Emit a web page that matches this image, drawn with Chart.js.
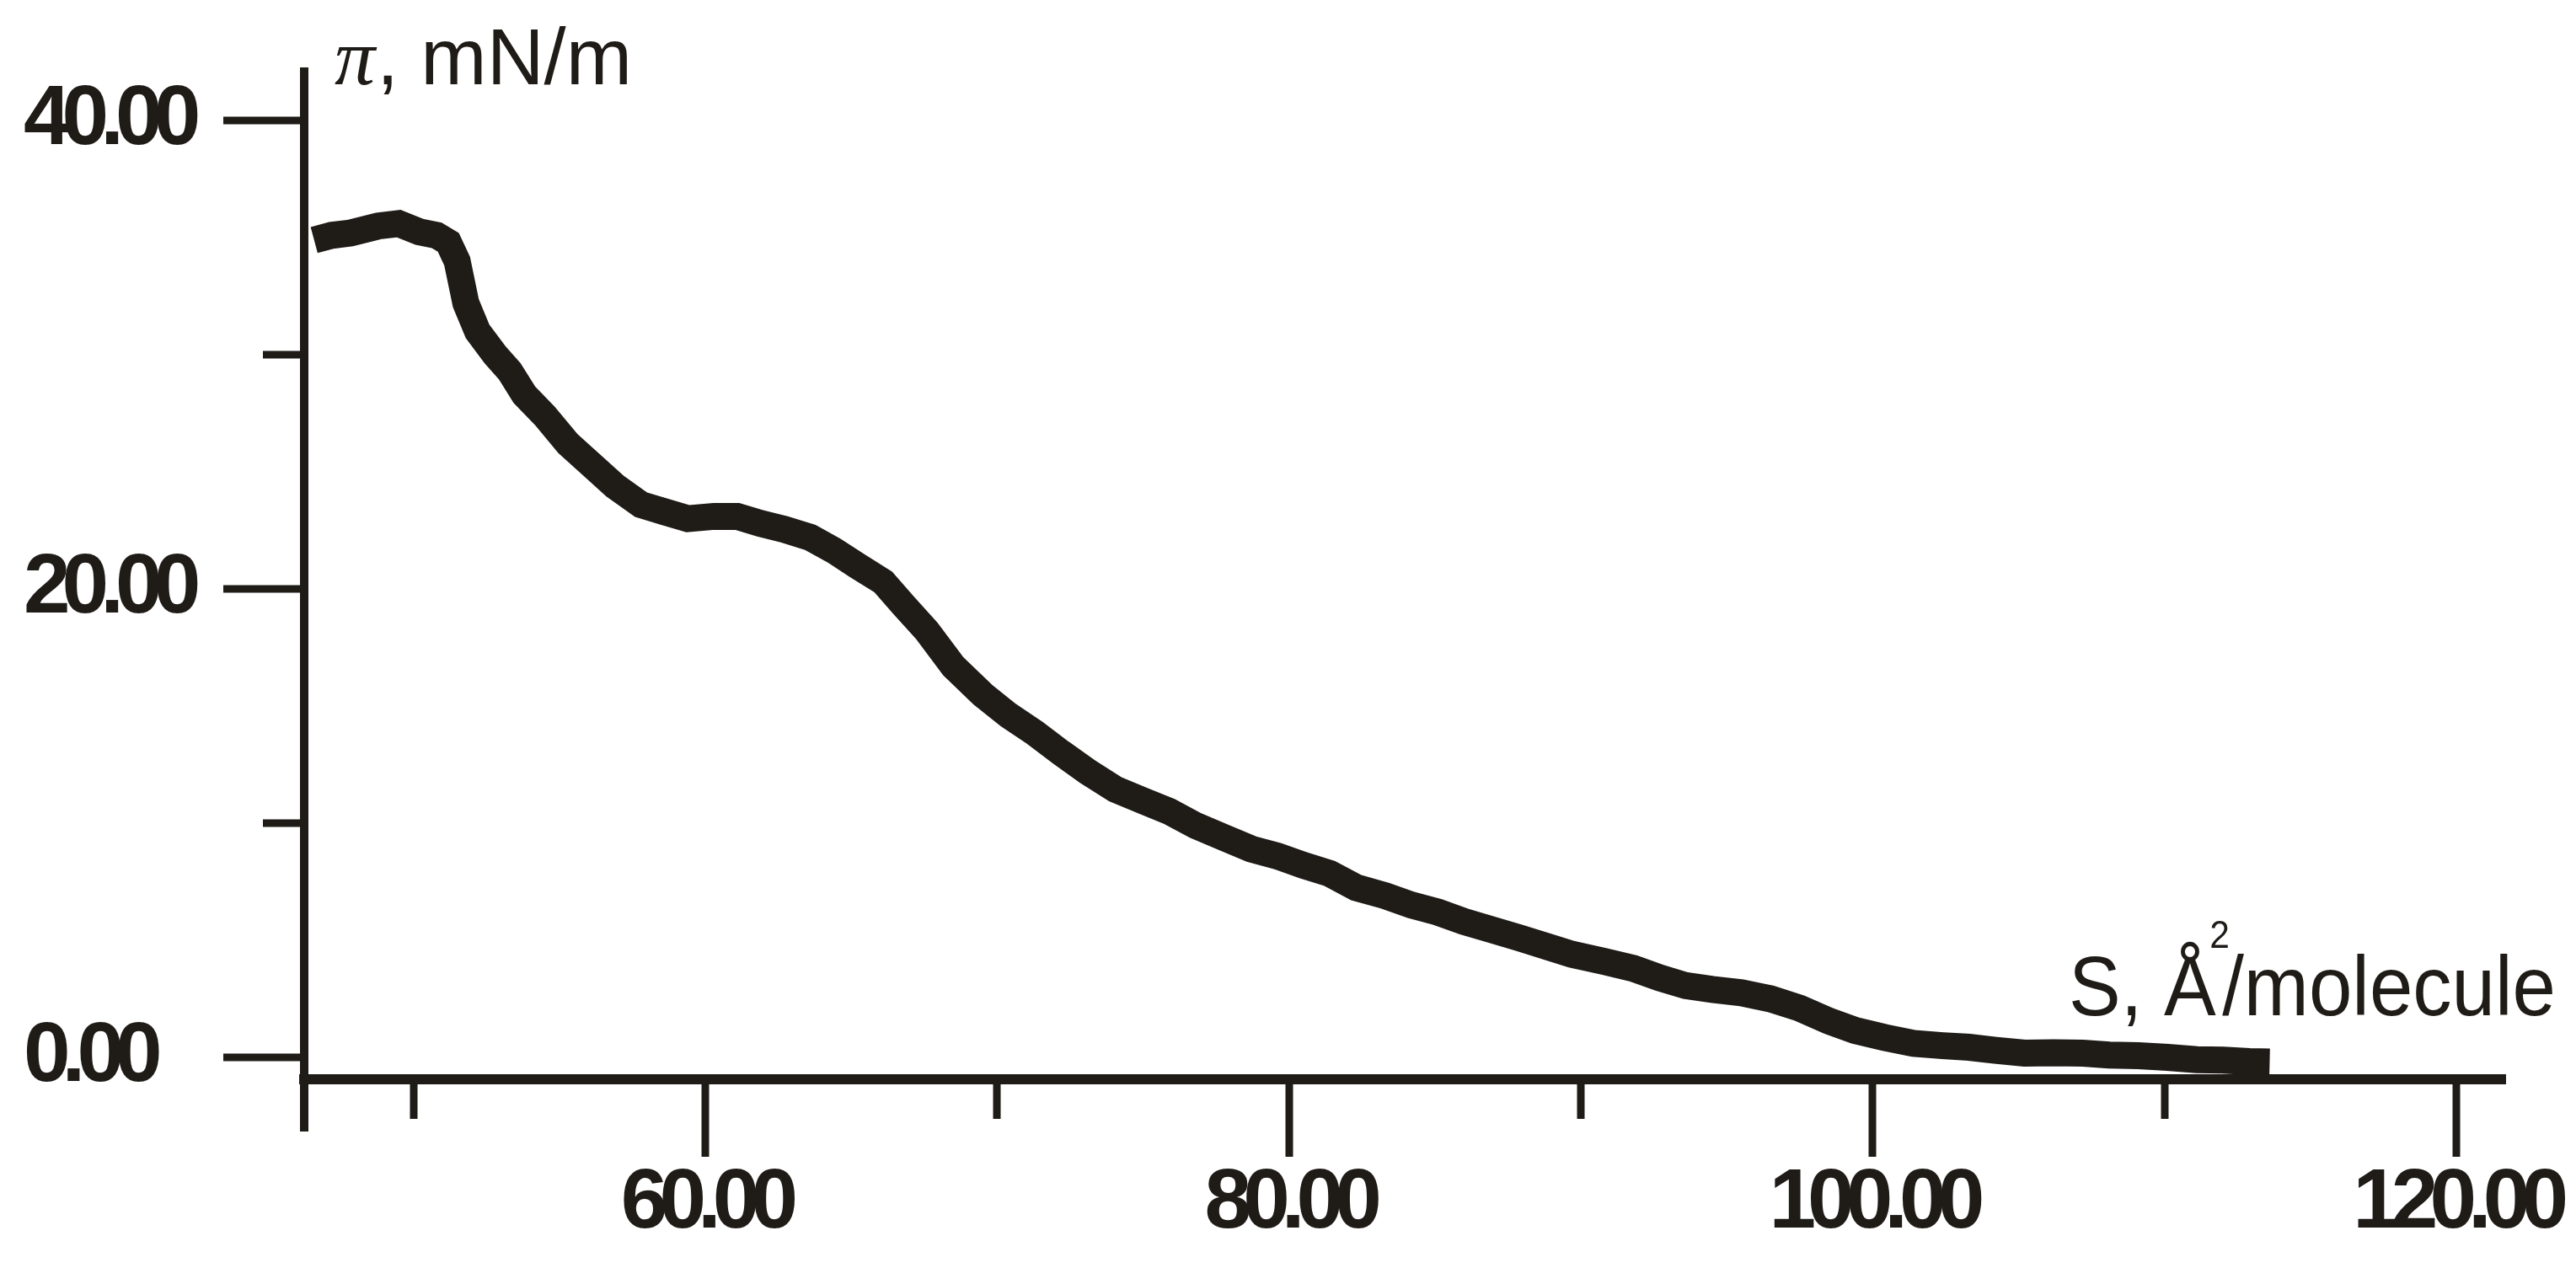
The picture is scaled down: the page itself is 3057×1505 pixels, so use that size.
<!DOCTYPE html>
<html>
<head>
<meta charset="utf-8">
<title>π – S isotherm</title>
<script src="https://cdn.jsdelivr.net/npm/chart.js@4.4.1/dist/chart.umd.min.js"></script>
<style>
  html, body { margin: 0; padding: 0; background: #fff; }
  #wrap { width: 3057px; height: 1505px; position: relative; }
</style>
</head>
<body>
<div id="wrap"><canvas id="isotherm"></canvas></div>
<script>
// S, Å²/molecule
const areaPerMolecule = [
  46.6, 47.2, 47.85, 48.8, 49.5, 50.2, 50.8, 51.2, 51.5, 51.8,
  52.2, 52.8, 53.3, 53.8, 54.5, 55.3, 56.1, 56.9, 57.8, 58.6,
  59.4, 60.3, 61.1, 61.9, 62.7, 63.6, 64.4, 65.2, 66.1, 66.8,
  67.6, 68.5, 69.5, 70.4, 71.3, 72.2, 73.1, 74.05, 74.97, 75.9,
  76.8, 77.75, 78.7, 79.6, 80.5, 81.4, 82.3, 83.3, 84.2, 85.1,
  86.0, 86.95, 87.9, 88.8, 89.7, 90.8, 91.8, 92.7, 93.6, 94.5,
  95.5, 96.5, 97.5, 98.5, 99.4, 100.4, 101.4, 102.4, 103.3, 104.2,
  105.2, 106.2, 107.2, 108.1, 109.1, 110.1, 111.1, 112.0, 112.9, 113.6
];
// π, mN/m
const surfacePressure = [
  34.9, 35.1, 35.2, 35.5, 35.6, 35.25, 35.1, 34.8, 34.0, 32.2,
  31.0, 30.0, 29.3, 28.3, 27.4, 26.2, 25.3, 24.4, 23.6, 23.3,
  23.0, 23.1, 23.1, 22.8, 22.55, 22.2, 21.65, 21.0, 20.3, 19.3,
  18.2, 16.7, 15.5, 14.6, 13.85, 13.0, 12.2, 11.45, 10.97, 10.5,
  9.9, 9.4, 8.9, 8.6, 8.2, 7.85, 7.25, 6.9, 6.5, 6.2,
  5.8, 5.45, 5.1, 4.75, 4.4, 4.1, 3.8, 3.4, 3.06, 2.9,
  2.76, 2.5, 2.1, 1.55, 1.15, 0.85, 0.6, 0.5, 0.43, 0.3,
  0.18, 0.2, 0.18, 0.1, 0.07, 0.0, -0.1, -0.12, -0.18, -0.2
];

const yTicks = [0, 10, 20, 30, 40];
const yLabelled = [0, 20, 40];
const xTicks = [50, 60, 70, 80, 90, 100, 110, 120];
const xLabelled = [60, 80, 100, 120];

const yTitle = ["π", ", mN/m"];
const xTitle = ["S, Å", "2", "/molecule"];

const ink = "#1f1c18";
const sans = "'Liberation Sans', Arial, sans-serif";

// the tick numbers are set in a narrow, tightly spaced bold face
function hasFont(name) {
  const c = document.createElement("canvas").getContext("2d");
  c.font = "bold 100px monospace";
  const a = c.measureText("0123.45").width;
  c.font = "bold 100px '" + name + "', monospace";
  return c.measureText("0123.45").width !== a;
}
const narrow = hasFont("Liberation Sans Narrow");
const tickFamily = narrow ? "'Liberation Sans Narrow', " + sans : sans;
const tickSize = narrow ? 104 : 100;
const tickSpacing = narrow ? "-6px" : "-10px";

// tick marks of two lengths, the y axis tail and both axis titles
const axisMarks = {
  id: "axisMarks",
  beforeDraw(chart) {
    chart.ctx.letterSpacing = tickSpacing;
  },
  afterDraw(chart) {
    const { ctx, chartArea: area, scales: { x, y } } = chart;
    ctx.save();
    ctx.letterSpacing = "0px";
    ctx.strokeStyle = ink;
    ctx.lineWidth = 9;
    ctx.beginPath();
    yTicks.forEach(v => {
      const py = Math.round(y.getPixelForValue(v));
      const len = yLabelled.includes(v) ? 96 : 49;
      ctx.moveTo(area.left - len, py);
      ctx.lineTo(area.left, py);
    });
    xTicks.forEach(v => {
      const px = Math.round(x.getPixelForValue(v));
      const len = xLabelled.includes(v) ? 92 : 47;
      ctx.moveTo(px, area.bottom);
      ctx.lineTo(px, area.bottom + len);
    });
    ctx.stroke();

    ctx.lineWidth = 10;
    ctx.beginPath();
    ctx.moveTo(area.left, area.bottom);
    ctx.lineTo(area.left, area.bottom + 62);
    ctx.stroke();

    // y title
    ctx.fillStyle = ink;
    ctx.textAlign = "left";
    ctx.textBaseline = "alphabetic";
    ctx.font = "italic 96px 'Liberation Serif', serif";
    ctx.fillText(yTitle[0], area.left + 36, area.top + 15);
    const piW = ctx.measureText(yTitle[0]).width;
    ctx.font = "94px " + sans;
    ctx.fillText(yTitle[1], area.left + 36 + piW + 2, area.top + 15);

    // x title, squeezed a little like the original
    ctx.font = "100px " + sans;
    const wA = ctx.measureText(xTitle[0]).width;
    const wB = ctx.measureText(xTitle[2]).width;
    const sx = 578 / (wA + wB + 8);
    ctx.translate(2455, area.bottom - 76);
    ctx.scale(sx, 1);
    ctx.fillText(xTitle[0], 0, 0);
    ctx.fillText(xTitle[2], wA + 8, 0);
    ctx.font = "46px " + sans;
    ctx.fillText(xTitle[1], wA - 8, -80);
    ctx.restore();
  }
};

const points = areaPerMolecule.map((s, i) => ({ x: s, y: surfacePressure[i] }));

new Chart(document.getElementById("isotherm"), {
  type: "scatter",
  data: {
    datasets: [{
      data: points,
      showLine: true,
      borderColor: ink,
      borderWidth: 32,
      pointRadius: 0,
      tension: 0,
      fill: false
    }]
  },
  options: {
    responsive: true,
    maintainAspectRatio: false,
    devicePixelRatio: 1,
    animation: false,
    layout: { padding: { left: 28, top: 85, right: 84, bottom: 0 } },
    plugins: { legend: { display: false }, tooltip: { enabled: false } },
    scales: {
      x: {
        type: "linear",
        position: "bottom",
        min: 46.26,
        max: 121.67,
        afterFit: s => { s.height = 224; s.paddingLeft = 0; s.paddingRight = 0; },
        afterBuildTicks: s => { s.ticks = xTicks.map(v => ({ value: v })); },
        grid: { drawOnChartArea: false, drawTicks: false },
        border: { display: true, width: 12, color: ink },
        ticks: {
          autoSkip: false,
          maxRotation: 0,
          minRotation: 0,
          padding: 88,
          color: ink,
          font: { family: tickFamily, size: tickSize, weight: "bold" },
          callback: v => xLabelled.includes(v) ? v.toFixed(2) : ""
        }
      },
      y: {
        type: "linear",
        position: "left",
        min: -0.935,
        max: 42.09,
        afterFit: s => { s.width = 333; s.paddingTop = 0; s.paddingBottom = 0; },
        afterBuildTicks: s => { s.ticks = yTicks.map(v => ({ value: v })); },
        grid: { drawOnChartArea: false, drawTicks: false },
        border: { display: true, width: 10, color: ink },
        ticks: {
          crossAlign: "far",
          padding: 0,
          color: ink,
          font: { family: tickFamily, size: tickSize, weight: "bold" },
          callback: v => yLabelled.includes(v) ? v.toFixed(2) : ""
        }
      }
    }
  },
  plugins: [axisMarks]
});
</script>
</body>
</html>
